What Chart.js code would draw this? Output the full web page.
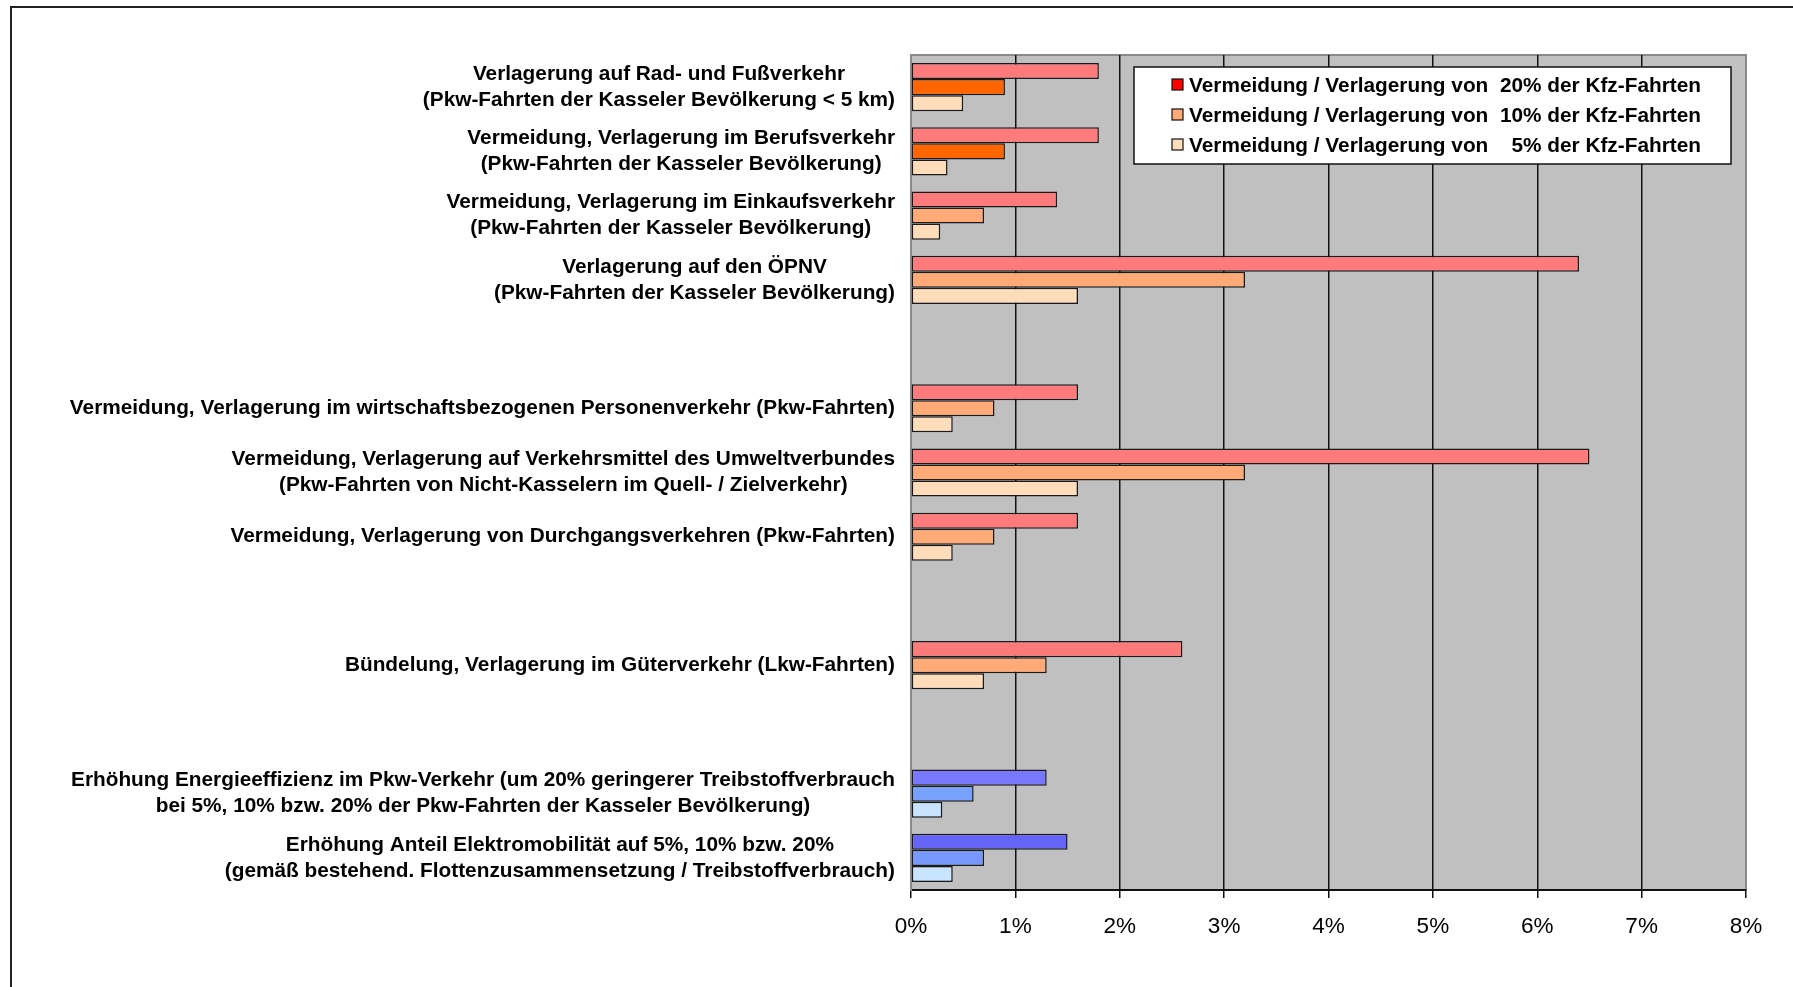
<!DOCTYPE html>
<html>
<head>
<meta charset="utf-8">
<script src="https://cdn.jsdelivr.net/npm/chart.js@4/dist/chart.umd.min.js"></script>
<style>
  body { margin: 0; background: #fff; }
  canvas { display: block; }
</style>
</head>
<body>
<canvas id="chart1" width="1793" height="987"></canvas>
<script>
// Kategorien (leere Einträge = Lücken im Diagramm)
const categories = [
    ['Verlagerung auf Rad- und Fußverkehr', '(Pkw-Fahrten der Kasseler Bevölkerung < 5 km)'],
    ['Vermeidung, Verlagerung im Berufsverkehr', '(Pkw-Fahrten der Kasseler Bevölkerung)'],
    ['Vermeidung, Verlagerung im Einkaufsverkehr', '(Pkw-Fahrten der Kasseler Bevölkerung)'],
    ['Verlagerung auf den ÖPNV', '(Pkw-Fahrten der Kasseler Bevölkerung)'],
    [''],
    ['Vermeidung, Verlagerung im wirtschaftsbezogenen Personenverkehr (Pkw-Fahrten)'],
    ['Vermeidung, Verlagerung auf Verkehrsmittel des Umweltverbundes', '(Pkw-Fahrten von Nicht-Kasselern im Quell- / Zielverkehr)'],
    ['Vermeidung, Verlagerung von Durchgangsverkehren (Pkw-Fahrten)'],
    [''],
    ['Bündelung, Verlagerung im Güterverkehr (Lkw-Fahrten)'],
    [''],
    ['Erhöhung Energieeffizienz im Pkw-Verkehr (um 20% geringerer Treibstoffverbrauch', 'bei 5%, 10% bzw. 20% der Pkw-Fahrten der Kasseler Bevölkerung)'],
    ['Erhöhung Anteil Elektromobilität auf 5%, 10% bzw. 20%', '(gemäß bestehend. Flottenzusammensetzung / Treibstoffverbrauch)'],
]

const seriesLabels = [
    'Vermeidung / Verlagerung von  20% der Kfz-Fahrten',
    'Vermeidung / Verlagerung von  10% der Kfz-Fahrten',
    'Vermeidung / Verlagerung von    5% der Kfz-Fahrten',
]

// Werte in %
const values20 = [1.8, 1.8, 1.4, 6.4, null, 1.6, 6.5, 1.6, null, 2.6, null, 1.3, 1.5]
const values10 = [0.9, 0.9, 0.7, 3.2, null, 0.8, 3.2, 0.8, null, 1.3, null, 0.6, 0.7]
const values5 = [0.5, 0.35, 0.28, 1.6, null, 0.4, 1.6, 0.4, null, 0.7, null, 0.3, 0.4]

const xTicks = [0, 1, 2, 3, 4, 5, 6, 7, 8]

// Farben je Balken
const colors20 = ['#ff7b7b', '#ff7b7b', '#ff7b7b', '#ff7b7b', '#ff7b7b', '#ff7b7b', '#ff7b7b', '#ff7b7b', '#ff7b7b', '#ff7b7b', '#ff7b7b', '#7777ff', '#6464f8']
const colors10 = ['#ff6600', '#ff6600', '#ffaa77', '#ffaa77', '#ffaa77', '#ffaa77', '#ffaa77', '#ffaa77', '#ffaa77', '#ffaa77', '#ffaa77', '#78a0ff', '#7799ff']
const colors5 = ['#ffddbb', '#ffddbb', '#ffddbb', '#ffddbb', '#ffddbb', '#ffddbb', '#ffddbb', '#ffddbb', '#ffddbb', '#ffddbb', '#ffddbb', '#c8e4ff', '#c8e4ff']
const legendColors = ['#ff0000', '#ffaa77', '#ffddbb']

const font = '"Liberation Sans", Arial, sans-serif'

// Hintergrund, Rahmen, Achsenbeschriftung und Legende
const decor = {
    id: 'decor',
    beforeDraw(chart) {
        const { ctx, chartArea: a } = chart
        ctx.save()
        ctx.fillStyle = '#fff'
        ctx.fillRect(0, 0, chart.width, chart.height)
        ctx.strokeStyle = '#222'
        ctx.lineWidth = 2
        ctx.beginPath()
        ctx.moveTo(11, chart.height)
        ctx.lineTo(11, 7)
        ctx.lineTo(chart.width, 7)
        ctx.stroke()
        ctx.fillStyle = '#c0c0c0'
        ctx.fillRect(a.left, a.top, a.right - a.left, a.bottom - a.top)
        ctx.strokeStyle = '#8a8a8a'
        ctx.lineWidth = 2
        ctx.strokeRect(a.left, a.top, a.right - a.left, a.bottom - a.top)
        ctx.restore()
    },
    afterDatasetsDraw(chart) {
        const { ctx } = chart
        const yScale = chart.scales.y
        ctx.save()
        ctx.fillStyle = '#000'
        ctx.font = 'bold 20.8px ' + font
        ctx.textAlign = 'center'
        ctx.textBaseline = 'middle'
        const right = yScale.right - 16
        const lh = 26
        categories.forEach((lines, i) => {
            const w = Math.max(...lines.map((l) => ctx.measureText(l).width))
            const cx = right - w / 2
            const cy = yScale.getPixelForTick(i)
            lines.forEach((l, j) => {
                ctx.fillText(l, cx, cy + (j - (lines.length - 1) / 2) * lh)
            })
        })

        // Legende
        const bx = 1134, by = 67, bw = 597, bh = 97
        ctx.fillStyle = '#fff'
        ctx.fillRect(bx, by, bw, bh)
        ctx.strokeStyle = '#111'
        ctx.lineWidth = 1.5
        ctx.strokeRect(bx, by, bw, bh)
        ctx.textAlign = 'left'
        ctx.font = 'bold 20.8px ' + font
        seriesLabels.forEach((label, i) => {
            const y = 85 + i * 30
            ctx.fillStyle = legendColors[i]
            ctx.fillRect(1172, y - 6, 11, 11)
            ctx.strokeStyle = '#111'
            ctx.lineWidth = 1.2
            ctx.strokeRect(1172, y - 6, 11, 11)
            ctx.fillStyle = '#000'
            ctx.fillText(label, 1189, y + 1)
        })
        ctx.restore()
    },
}

const ctx1 = document.getElementById('chart1')

const chart1 = new Chart(ctx1, {
    type: 'bar',
    data: {
        labels: categories.map((c) => c.join(' ')),
        datasets: [
            {
                label: seriesLabels[0],
                data: values20,
                backgroundColor: colors20,
            },
            {
                label: seriesLabels[1],
                data: values10,
                backgroundColor: colors10,
            },
            {
                label: seriesLabels[2],
                data: values5,
                backgroundColor: colors5,
            },
        ],
    },
    options: {
        indexAxis: 'y',
        responsive: false,
        animation: false,
        devicePixelRatio: 1,
        layout: {
            padding: { top: 55, right: 47, left: 0, bottom: 0 },
        },
        datasets: {
            bar: {
                borderColor: '#1a1a1a',
                borderWidth: 1.5,
                borderSkipped: false,
                barPercentage: 1,
                categoryPercentage: 0.75,
            },
        },
        plugins: {
            legend: { display: false },
            tooltip: { enabled: false },
        },
        scales: {
            x: {
                type: 'linear',
                position: 'bottom',
                min: 0,
                max: 8,
                afterBuildTicks: (scale) => {
                    scale.ticks = xTicks.map((v) => ({ value: v }))
                },
                afterFit: (scale) => {
                    scale.height = 97
                },
                ticks: {
                    callback: (v) => v + '%',
                    color: '#000',
                    padding: 15,
                    font: { family: font, size: 22.5 },
                },
                grid: {
                    color: (c) => (c.tick && (c.tick.value === 0 || c.tick.value === 8) ? '#8a8a8a' : '#111'),
                    lineWidth: 1.5,
                    tickColor: '#111',
                    tickLength: 8,
                },
                border: { color: '#111', width: 2 },
            },
            y: {
                type: 'category',
                afterFit: (scale) => {
                    scale.width = 911
                },
                ticks: { display: false },
                grid: { display: false },
                border: { color: '#8a8a8a', width: 2 },
            },
        },
    },
    plugins: [decor],
})
</script>
</body>
</html>
